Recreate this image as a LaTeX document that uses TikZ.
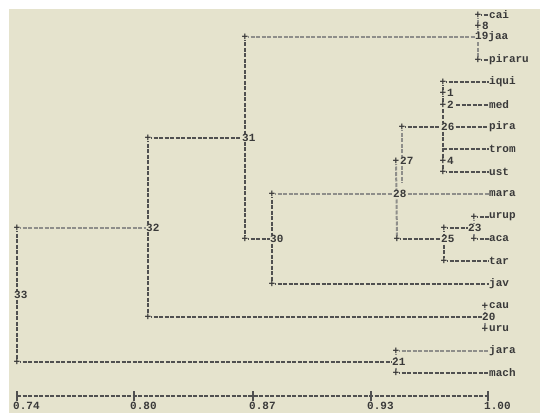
\documentclass[tikz,border=0pt]{standalone}
\usepackage{fontspec}
\newfontfamily\monofnt{Liberation Mono}
\definecolor{bgc}{HTML}{E5E3CD}
\definecolor{darkln}{HTML}{505050}
\definecolor{lightln}{HTML}{8E8E8A}
\definecolor{txtc}{HTML}{3A3A3A}
\pgfdeclarelayer{backl}
\pgfdeclarelayer{linel}
\pgfsetlayers{backl,linel,main}
\tikzset{
  hv/.style={draw=darkln, line width=2pt, dash pattern=on 4pt off 1.5pt},
  lt/.style={draw=lightln, line width=2pt, dash pattern=on 4pt off 1.5pt},
  lab/.style={font=\monofnt\bfseries\fontsize{11}{12}\selectfont, text=txtc, inner sep=0pt, anchor=west, fill=bgc},
  pl/.style={font=\monofnt\bfseries\fontsize{11}{12}\selectfont, text=txtc, inner sep=0pt, fill=bgc}
}
\begin{document}
\begin{tikzpicture}[x=1pt,y=-1pt]
\useasboundingbox (0,0) rectangle (540,417);
\begin{pgfonlayer}{backl}
\fill[white] (0,0) rectangle (540,417);
\fill[bgc] (9,9) rectangle (540,413);
\end{pgfonlayer}

% ---- labels and junction marks
% group 19
\node[pl] (p0) at (478,15) {+};
\node[lab] (cai) at (489,15) {cai};
\node[pl] (p1) at (478,26) {+};
\node[lab] (n8) at (482,26) {8};
\node[pl] (pa) at (245,37) {+};
\node[lab] (n19) at (475,37) {19jaa};
\node[pl] (p4) at (478,60) {+};
\node[lab] (piraru) at (489,60) {piraru};
% group 26
\node[pl] (p6) at (443,82) {+};
\node[lab] (iqui) at (489,82) {iqui};
\node[pl] (p7) at (443,93) {+};
\node[lab] (n1) at (447,93) {1};
\node[pl] (p8) at (443,105) {+};
\node[lab] (n2) at (447,105) {2};
\node[lab] (med) at (489,105) {med};
\node[pl] (p10) at (402,127) {+};
\node[lab] (n26) at (441,127) {26};
\node[lab] (pira) at (489,127) {pira};
\node[pl] (p11) at (148,138) {+};
\node[lab] (n31) at (242,138) {31};
\coordinate (t12) at (443,149);
\node[lab] (trom) at (489,149) {trom};
\node[pl] (p13a) at (396,161) {+};
\node[lab] (n27) at (400,161) {27};
\node[pl] (p13b) at (443,161) {+};
\node[lab] (n4) at (447,161) {4};
\node[pl] (p14) at (443,172) {+};
\node[lab] (ust) at (489,172) {ust};
\coordinate (b27) at (402,183);
% group 28
\node[pl] (p16) at (272,194) {+};
\node[lab] (n28) at (393,194) {28};
\node[lab] (mara) at (489,194) {mara};
\node[pl] (p18) at (474,217) {+};
\node[lab] (urup) at (489,217) {urup};
\node[pl] (p19a) at (17,228) {+};
\node[lab] (n32) at (146,228) {32};
\node[pl] (p19b) at (444,228) {+};
\node[lab] (n23) at (468,228) {23};
\node[pl] (p20a) at (245,239) {+};
\node[lab] (n30) at (270,239) {30};
\node[pl] (p20b) at (397,239) {+};
\node[lab] (n25) at (441,239) {25};
\node[pl] (p20c) at (474,239) {+};
\node[lab] (aca) at (489,239) {aca};
\node[pl] (p22) at (444,261) {+};
\node[lab] (tar) at (489,261) {tar};
\node[pl] (p24) at (272,284) {+};
\node[lab] (jav) at (489,284) {jav};
\node[lab] (n33) at (14,295) {33};
\node[pl] (p26) at (485,306) {+};
\node[lab] (cau) at (489,306) {cau};
\node[pl] (p27) at (148,317) {+};
\node[lab] (n20) at (482,317) {20};
\node[pl] (p28) at (485,329) {+};
\node[lab] (uru) at (489,329) {uru};
\node[pl] (p30) at (396,351) {+};
\node[lab] (jara) at (489,351) {jara};
\node[pl] (p31) at (17,362) {+};
\node[lab] (n21) at (392,362) {21};
\node[pl] (p32) at (396,373) {+};
\node[lab] (mach) at (489,373) {mach};
% scale
\coordinate (s0) at (17,396);
\coordinate (s1) at (134,396);
\coordinate (s2) at (253,396);
\coordinate (s3) at (371,396);
\coordinate (s4) at (488,396);
\node[lab] (l0) at (13,406) {0.74};
\node[lab] (l1) at (130,406) {0.80};
\node[lab] (l2) at (249,406) {0.87};
\node[lab] (l3) at (367,406) {0.93};
\node[lab] (l4) at (484,406) {1.00};

% ---- connectors
\begin{pgfonlayer}{linel}
% verticals
\draw[lt] (p0.center) -- (p4.center);
\draw[hv] (p6.center) -- (p14.center);
\draw[lt] (p10.center) -- (b27);
\draw[lt] (p13a.center) -- (p20b.center);
\draw[hv] (p19b.center) -- (p22.center);
\draw[lt] (p18.center) -- (p20c.center);
\draw[hv] (p16.center) -- (p24.center);
\draw[hv] (pa.center) -- (p20a.center);
\draw[hv] (p11.center) -- (p27.center);
\draw[hv] (p19a.center) -- (p31.center);
\draw[lt] (p30.center) -- (p32.center);
\draw[lt] (p26.center) -- (p28.center);
% horizontals
\draw[lt] (pa.center) -- (n19.west);
\draw[hv] (p0.center) -- (cai.west);
\draw[hv] (p4.center) -- (piraru.west);
\draw[hv] (p6.center) -- (iqui.west);
\draw[hv] ([xshift=2pt]n2.east) -- (med.west);
\draw[hv] (p10.center) -- (n26.west);
\draw[hv] ([xshift=1pt]n26.east) -- (pira.west);
\draw[hv] (p11.center) -- (n31.west);
\draw[hv] (t12) -- (trom.west);
\draw[hv] (p14.center) -- (ust.west);
\draw[lt] (p16.center) -- (n28.west);
\draw[lt] ([xshift=1pt]n28.east) -- (mara.west);
\draw[hv] (p18.center) -- (urup.west);
\draw[lt] (p19a.center) -- (n32.west);
\draw[hv] (p19b.center) -- (n23.west);
\draw[hv] (p20a.center) -- (n30.west);
\draw[hv] (p20b.center) -- (n25.west);
\draw[hv] (p20c.center) -- (aca.west);
\draw[hv] (p22.center) -- (tar.west);
\draw[hv] (p24.center) -- (jav.west);
\draw[hv] (p27.center) -- (n20.west);
\draw[lt] (p30.center) -- (jara.west);
\draw[hv] (p31.center) -- (n21.west);
\draw[hv] (p32.center) -- (mach.west);
% scale bar
\draw[hv] (s0) -- (s4);
\foreach \t in {s0,s1,s2,s3,s4}
  \draw[darkln, line width=2pt] ([yshift=-5pt]\t) -- ([yshift=5pt]\t);
\end{pgfonlayer}
\end{tikzpicture}
\end{document}
